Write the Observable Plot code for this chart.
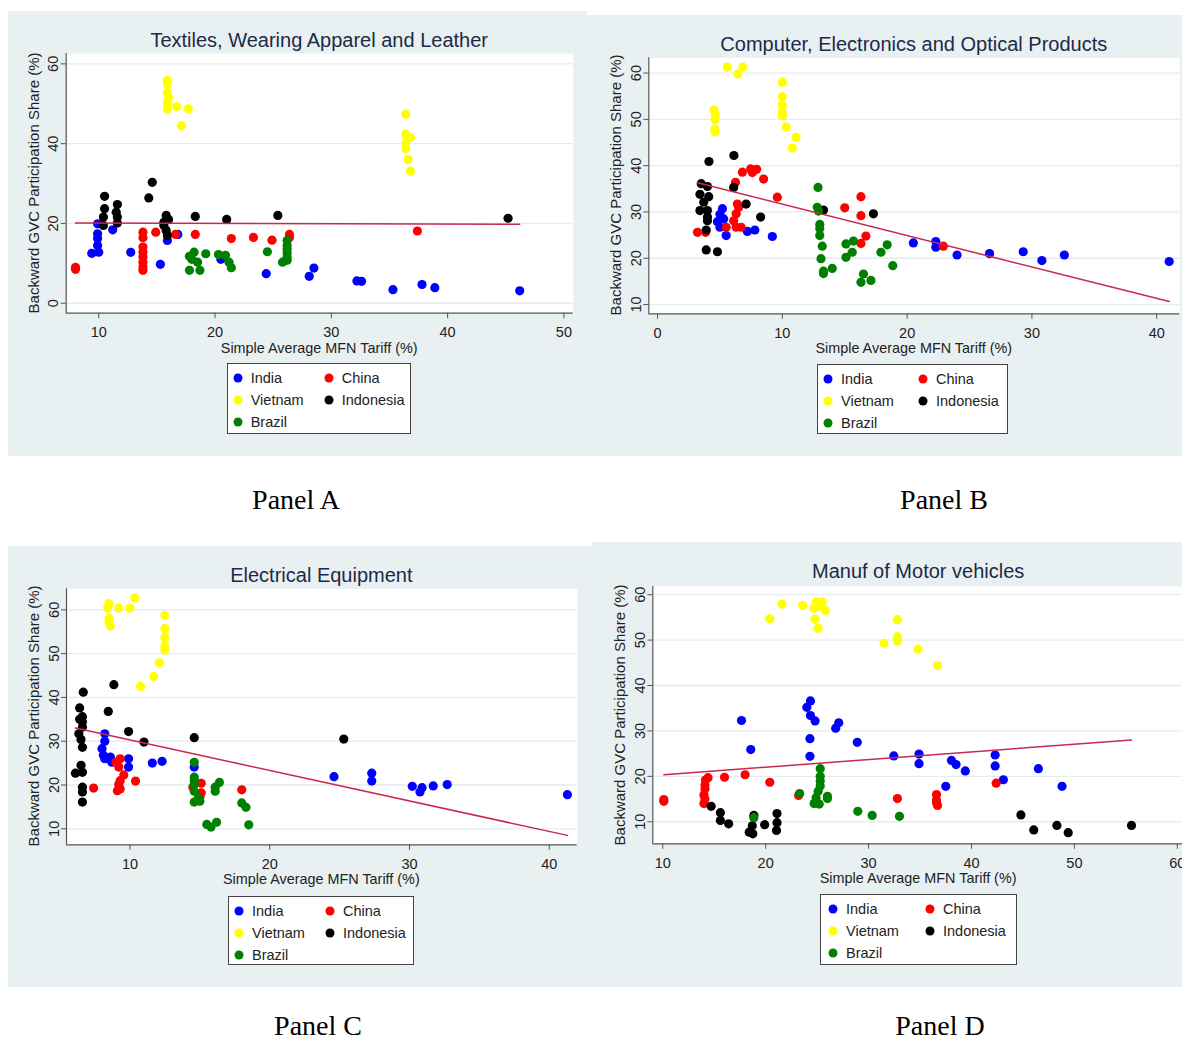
<!DOCTYPE html>
<html><head><meta charset="utf-8">
<script src="https://cdn.jsdelivr.net/npm/d3@7"></script>
<script src="https://cdn.jsdelivr.net/npm/@observablehq/plot@0.6"></script>
<style>
html,body{margin:0;padding:0;}
body{width:1182px;height:1041px;overflow:hidden;background:#fff;position:relative;font-family:Arial,"Liberation Sans",sans-serif;}
.bg{position:absolute;background:#e9f0f2;}
.holder{position:absolute;}
.ctr{position:absolute;white-space:nowrap;transform:translate(-50%,-50%);line-height:1;}
.title{font-size:20px;color:#1c2a48;}
.xt{font-size:14.4px;color:#222;}
.yt{font-size:15px;color:#222;transform:translate(-50%,-50%) rotate(-90deg);}
.plab{font-family:"Liberation Serif","Times New Roman",serif;font-size:28px;color:#000;line-height:0.9;}
.legend{position:absolute;background:#fff;border:1px solid #444;box-sizing:border-box;}
.li{position:absolute;font-size:14.5px;color:#222;white-space:nowrap;line-height:1;transform:translateY(-50%);}
.ld{position:absolute;width:9px;height:9px;border-radius:50%;transform:translate(-50%,-50%);}
</style>
</head><body>
<script>
// ---- categories / legend ----
const countries = ["India","China","Vietnam","Indonesia","Brazil"];
const colors = ["#0000ff","#ff0000","#ffff00","#000000","#008000"];
const xTitle = "Simple Average MFN Tariff (%)";
const yTitle = "Backward GVC Participation Share (%)";

// ---- Panel A: Textiles, Wearing Apparel and Leather ----
const A_India = [[9.9,19.9],[9.9,17.4],[9.9,16.2],[9.9,14.5],[9.4,12.5],[10.0,12.8],[11.2,18.4],[12.75,12.75],[15.3,9.75],[15.9,15.75],[16.8,17.25],[20.5,11],[24.4,7.4],[28.1,6.75],[28.5,8.8],[32.2,5.6],[32.6,5.5],[35.3,3.4],[37.8,4.7],[38.9,3.9],[46.2,3.1]];
const A_China = [[8.0,8.5],[8.0,9.0],[13.8,17.8],[13.8,16.4],[13.8,14.1],[13.8,12.8],[13.8,11.6],[13.8,10.3],[13.8,9.1],[13.8,8.25],[14.9,17.8],[16.6,17.25],[18.3,17.25],[21.4,16.2],[23.3,16.5],[24.9,15.8],[26.4,17.25],[26.4,16.5],[37.4,18.1]];
const A_Vietnam = [[15.9,55.9],[15.9,54.9],[15.9,52.8],[15.9,50.3],[16.0,51.5],[15.9,48.7],[16.7,49.3],[17.7,48.75],[17.1,44.5],[36.4,47.4],[36.4,42.4],[36.8,41.6],[36.4,40.3],[36.4,38.7],[36.6,36.0],[36.8,33.1]];
const A_Indonesia = [[10.5,26.8],[10.5,23.7],[10.4,21.6],[10.4,19.5],[11.6,24.75],[11.5,22.8],[11.6,21.6],[11.6,20.1],[14.6,30.3],[14.3,26.4],[15.8,22],[15.6,20.3],[15.6,19.5],[16.0,21],[15.8,18.25],[15.9,17.0],[18.3,21.75],[21.0,21.0],[25.4,22.0],[45.2,21.3]];
const A_Brazil = [[17.8,11.75],[18.2,12.8],[17.8,8.25],[18.5,10.3],[18.7,8.25],[19.2,12.4],[18.0,11],[20.3,12.2],[20.9,12],[21.2,10.3],[21.4,8.9],[24.5,12.9],[26.2,15.75],[26.2,14.5],[26.2,13.5],[26.2,12.6],[26.2,11.5],[26.2,10.75],[25.8,10.3]];
const A_fit = [[8.0,20.1],[46.2,19.8]];
const A_xTicks = [10,20,30,40,50];
const A_yTicks = [0,20,40,60];

// ---- Panel B: Computer, Electronics and Optical Products ----
const B_India = [[5.2,30.7],[5.0,29.5],[4.8,27.9],[5.3,28.5],[5.0,26.7],[5.5,24.9],[7.2,25.8],[7.8,26.1],[9.2,24.7],[20.5,23.3],[22.3,23.6],[22.3,22.4],[24.0,20.7],[26.6,21.0],[29.3,21.4],[30.8,19.5],[32.6,20.7],[41.0,19.3]];
const B_China = [[3.2,25.6],[3.85,25.6],[6.25,36.4],[6.8,38.6],[7.46,39.3],[7.94,39.2],[7.6,38.5],[8.5,37.1],[9.6,33.2],[6.4,31.7],[6.5,31.0],[6.3,29.6],[6.1,28.1],[6.3,26.7],[6.7,26.7],[5.5,26.7],[15.0,30.9],[16.3,33.3],[16.3,29.2],[16.7,24.8],[16.3,23.2],[22.9,22.6]];
const B_Vietnam = [[5.59,61.3],[6.84,61.3],[6.44,59.8],[4.52,52.0],[4.65,51.0],[4.6,49.9],[4.6,47.9],[4.6,47.3],[10.0,58.0],[10.0,54.9],[10.0,53.1],[10.0,51.5],[10.0,50.8],[10.3,48.4],[11.1,46.1],[10.8,43.8]];
const B_Indonesia = [[4.12,40.9],[6.12,42.2],[3.5,36.1],[4.0,35.5],[3.4,33.8],[4.1,33.3],[3.7,32.1],[3.4,30.3],[4.0,30.3],[4.0,28.9],[4.0,28.1],[3.9,26.1],[3.9,21.8],[4.8,21.4],[6.1,35.3],[7.1,31.7],[8.26,28.9],[13.3,30.4],[17.3,29.6]];
const B_Brazil = [[12.86,35.3],[12.8,31.0],[12.9,30.2],[13.0,27.3],[13.0,26.4],[13.0,24.9],[13.2,22.6],[13.1,19.9],[13.3,17.2],[13.3,16.7],[14.0,17.8],[15.1,23.1],[15.7,23.7],[15.1,20.2],[15.6,21.3],[16.5,16.6],[16.3,14.8],[17.1,15.2],[17.9,21.3],[18.4,22.9],[18.85,18.4]];
const B_fit = [[3.2,36.3],[41.0,10.65]];
const B_xTicks = [0,10,20,30,40];
const B_yTicks = [10,20,30,40,50,60];

// ---- Panel C: Electrical Equipment ----
const C_India = [[8.2,31.7],[8.2,30.0],[8.0,28.3],[8.1,26.8],[8.2,26.0],[8.6,26.4],[8.7,25.2],[9.9,26.0],[9.9,24.1],[11.6,25.0],[12.3,25.4],[14.6,24.1],[24.6,21.9],[27.3,22.7],[27.3,20.9],[30.2,19.7],[30.75,18.4],[30.9,19.4],[31.7,19.8],[32.7,20.1],[41.3,17.8]];
const C_China = [[7.4,19.3],[9.0,25.2],[9.3,26.0],[9.2,24.1],[9.56,22.3],[9.3,21.0],[9.2,20.1],[9.1,18.7],[9.3,19.1],[10.4,20.9],[14.5,19.5],[15.1,20.4],[15.1,18.2],[15.0,17.2],[18.0,18.9]];
const C_Vietnam = [[8.49,61.4],[8.4,60.4],[9.2,60.4],[10.0,60.4],[10.35,62.7],[8.5,58.1],[8.5,57.2],[8.6,56.3],[12.5,58.7],[12.5,55.7],[12.5,53.7],[12.5,51.8],[12.5,50.8],[12.1,47.9],[11.7,44.8],[10.76,42.5]];
const C_Indonesia = [[6.66,41.2],[8.85,42.9],[6.4,37.6],[6.6,35.6],[6.4,35.0],[6.6,34.4],[6.34,31.7],[6.6,33.2],[6.5,30.4],[6.6,28.6],[6.5,24.5],[6.6,22.9],[6.1,22.7],[6.6,19.5],[6.6,18.4],[6.6,16.1],[8.45,36.8],[9.9,32.2],[11.0,29.8],[14.6,30.8],[25.3,30.5]];
const C_Brazil = [[14.6,25.2],[14.6,21.8],[14.6,21.0],[14.6,20.1],[14.6,18.6],[14.6,16.1],[14.9,17.2],[15.0,16.3],[16.1,19.5],[16.4,20.6],[16.1,18.6],[18.0,15.9],[18.3,14.9],[18.5,10.9],[15.5,11.0],[15.8,10.4],[16.2,11.5]];
const C_fit = [[6.1,33.0],[41.3,8.5]];
const C_xTicks = [10,20,30,40];
const C_yTicks = [10,20,30,40,50,60];

// ---- Panel D: Manuf of Motor vehicles ----
const D_India = [[17.65,32.3],[18.55,25.9],[24.35,36.6],[24.0,35.2],[24.35,33.4],[24.8,32.2],[24.3,28.3],[24.3,24.4],[26.8,30.6],[27.1,31.8],[28.9,27.5],[32.45,24.5],[34.9,24.9],[34.9,22.8],[38.06,23.5],[38.5,22.6],[39.4,21.2],[37.5,17.8],[42.3,24.7],[42.3,22.3],[43.1,19.25],[46.5,21.7],[48.8,17.8]];
const D_China = [[10.1,14.5],[10.1,14.9],[14.4,19.7],[14.15,19.2],[14.1,18.1],[14.1,17.2],[14.0,15.9],[14.0,14.0],[14.1,15.0],[16.0,19.8],[18.0,20.35],[20.4,18.7],[23.2,15.8],[32.8,15.1],[36.6,16.0],[36.6,14.8],[36.6,14.2],[36.7,13.6],[42.4,18.5]];
const D_Vietnam = [[20.4,54.7],[21.6,57.9],[23.6,57.6],[24.7,57.0],[24.9,58.4],[25.5,58.4],[25.2,57.4],[25.8,56.5],[24.8,54.6],[25.1,52.6],[32.8,54.5],[32.8,50.7],[32.8,49.8],[31.5,49.3],[34.8,48.0],[36.7,44.4]];
const D_Indonesia = [[14.7,13.4],[15.6,12.0],[15.6,10.3],[16.4,9.55],[18.4,7.7],[18.75,7.35],[18.7,9.1],[18.85,11.4],[19.9,9.35],[21.1,11.8],[21.1,9.8],[21.05,8.1],[44.8,11.5],[46.05,8.2],[48.3,9.2],[49.4,7.6],[55.55,9.2]];
const D_Brazil = [[18.85,10.9],[23.3,16.2],[25.3,21.7],[25.3,20.0],[25.3,19.0],[25.3,17.9],[25.1,16.7],[24.9,15.3],[24.7,14.0],[25.2,13.9],[26.0,15.6],[26.0,15.1],[28.95,12.3],[30.35,11.4],[33.0,11.2]];
const D_fit = [[10.1,20.35],[55.55,28.0]];
const D_xTicks = [10,20,30,40,50,60];
const D_yTicks = [10,20,30,40,50,60];

// ---- layout (pixels) ----
const panels = [
  {title:"Textiles, Wearing Apparel and Leather", label:"Panel A",
   series:[A_India,A_China,A_Vietnam,A_Indonesia,A_Brazil], fit:A_fit, xTicks:A_xTicks, yTicks:A_yTicks,
   bg:[8,11,579,445], frame:[65.7,53,572.7,312.7], xdom:[7.2,50.8], ydom:[-2.5,62.6],
   titleY:40, legend:[226.7,363.3,184.3,70.7,10,101], labelPos:[296,500]},
  {title:"Computer, Electronics and Optical Products", label:"Panel B",
   series:[B_India,B_China,B_Vietnam,B_Indonesia,B_Brazil], fit:B_fit, xTicks:B_xTicks, yTicks:B_yTicks,
   bg:[587,15,595,441], frame:[648.3,57.3,1179.3,313.3], xdom:[-0.7,41.85], ydom:[8.0,63.3],
   titleY:44, legend:[817,364,191,70,10,105], labelPos:[944,500]},
  {title:"Electrical Equipment", label:"Panel C",
   series:[C_India,C_China,C_Vietnam,C_Indonesia,C_Brazil], fit:C_fit, xTicks:C_xTicks, yTicks:C_yTicks,
   bg:[8,546,584,441], frame:[66,588.3,576.7,844.3], xdom:[5.46,42.0], ydom:[6.35,64.8],
   titleY:575, legend:[228,896,186,69,10,101], labelPos:[318,1025.5]},
  {title:"Manuf of Motor vehicles", label:"Panel D",
   series:[D_India,D_China,D_Vietnam,D_Indonesia,D_Brazil], fit:D_fit, xTicks:D_xTicks, yTicks:D_yTicks,
   bg:[592,542,600,445], frame:[652.3,586,1184,843.3], xdom:[9.03,60.7], ydom:[5.15,61.8],
   titleY:571, legend:[820,894,197,71,12,109], labelPos:[940,1025.5]}
];

function el(cls, css, text){
  const d = document.createElement("div");
  d.className = cls;
  Object.assign(d.style, css);
  if (text != null) d.textContent = text;
  document.body.appendChild(d);
  return d;
}

for (const p of panels) {
  const [bx,by,bw,bh] = p.bg;
  const [fl,ft,fr,fb] = p.frame;
  el("bg", {left:bx+"px", top:by+"px", width:bw+"px", height:bh+"px"});

  const marks = [
    Plot.frame({fill:"white", stroke:"none"}),
    Plot.gridY(p.yTicks, {stroke:"#e4ecef", strokeOpacity:1, strokeWidth:1.3}),
    Plot.ruleX([p.xdom[0]], {stroke:"#555", strokeWidth:1.2}),
    Plot.ruleY([p.ydom[0]], {stroke:"#555", strokeWidth:1.2}),
    Plot.axisX(p.xTicks, {tickSize:5.5, tickPadding:8.5, label:null, stroke:"#555", fill:"#222", fontSize:14.5}),
    Plot.axisY(p.yTicks, {tickSize:5, tickPadding:3, tickRotate:-90, label:null, stroke:"#555", fill:"#222", fontSize:14.5})
  ];
  p.series.forEach((s,i) => {
    marks.push(Plot.dot(s, {x:d=>d[0], y:d=>d[1], r:4.6, fill:colors[i], stroke:"none"}));
  });
  marks.push(Plot.line(p.fit, {x:d=>d[0], y:d=>d[1], stroke:"#c9294d", strokeWidth:1.5}));

  const svg = Plot.plot({
    width: bw, height: bh,
    marginLeft: fl-bx, marginTop: ft-by, marginRight: bx+bw-fr, marginBottom: by+bh-fb,
    x: {domain:p.xdom}, y: {domain:p.ydom},
    style: {background:"transparent", fontFamily:"Arial, 'Liberation Sans', sans-serif", fontSize:"14.5px", overflow:"visible"},
    marks
  });
  const h = el("holder", {left:bx+"px", top:by+"px", width:bw+"px", height:bh+"px"});
  h.appendChild(svg);

  const cx = (fl+fr)/2, cy = (ft+fb)/2;
  el("ctr title", {left:cx+"px", top:p.titleY+"px"}, p.title);
  el("ctr xt", {left:cx+"px", top:(fb+35)+"px"}, xTitle);
  el("ctr yt", {left:(fl-33)+"px", top:cy+"px"}, yTitle);
  el("ctr plab", {left:p.labelPos[0]+"px", top:p.labelPos[1]+"px"}, p.label);

  const [lx,ly,lw,lh,dOff,c2] = p.legend;
  const lg = el("legend", {left:lx+"px", top:ly+"px", width:lw+"px", height:lh+"px"});
  countries.forEach((c,i) => {
    const col = i % 2, row = Math.floor(i/2);
    const dx = col ? c2 : dOff;
    const yy = 13.5 + row*22;
    const dot = document.createElement("div");
    dot.className = "ld";
    Object.assign(dot.style, {left:dx+"px", top:yy+"px", background:colors[i]});
    lg.appendChild(dot);
    const t = document.createElement("div");
    t.className = "li";
    Object.assign(t.style, {left:(dx+13)+"px", top:yy+"px"});
    t.textContent = c;
    lg.appendChild(t);
  });
}
</script>
</body></html>
